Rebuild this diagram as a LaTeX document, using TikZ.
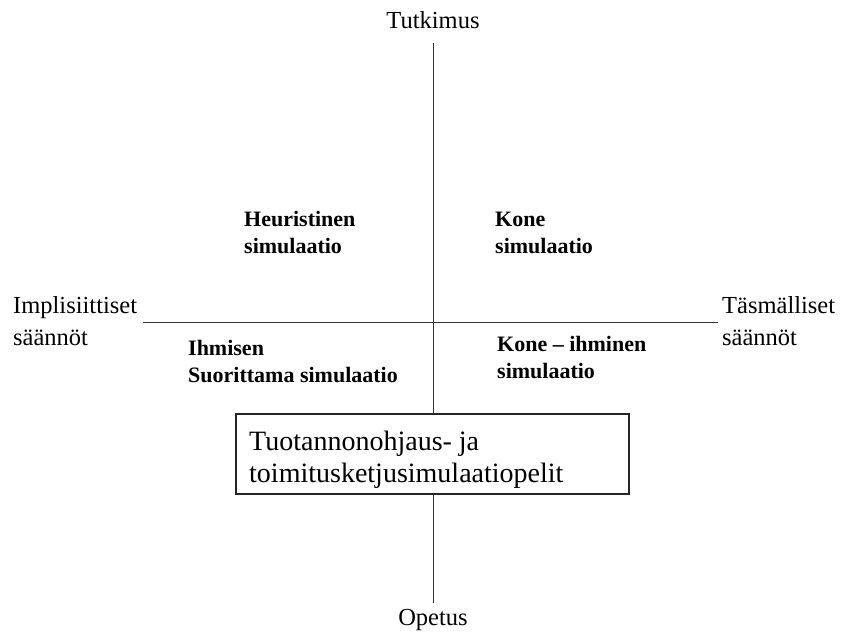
\documentclass[tikz,border=0pt]{standalone}
\usepackage{fontspec}
\setmainfont{Liberation Serif}
\begin{document}
\begin{tikzpicture}[x=1pt,y=-1pt,
  axislabel/.style={inner sep=0pt,font=\fontsize{24.5}{32}\selectfont,align=left},
  quadlabel/.style={inner sep=0pt,font=\fontsize{22}{26.5}\selectfont\bfseries,align=left},
  axisline/.style={line width=1pt,draw=black!80},
  framebox/.style={draw=black!85,line width=1.2pt,fill=white,minimum width=393pt,minimum height=80pt,inner sep=0pt},
  frametext/.style={inner sep=0pt,align=left,font=\fontsize{28}{32}\selectfont}]
\useasboundingbox (0,0) rectangle (846,633);

% axis end labels (multi-line nodes are anchored on their last baseline)
\node[axislabel,anchor=base] (res) at (433,28) {Tutkimus};
\node[axislabel,anchor=base] (edu) at (433,625) {Opetus};
\node[axislabel,anchor=base west] (impl) at (13,345) {Implisiittiset\\säännöt};
\node[axislabel,anchor=base west] (expl) at (722,345) {Täsmälliset\\säännöt};

% axis end points
\coordinate (vtop) at (433,43);
\coordinate (vbot) at (433,603);
\coordinate (hleft) at (143,322);
\coordinate (hright) at (718,322);

\draw[axisline] (vtop) -- (vbot);
\draw[axisline] (hleft) -- (hright);

% quadrant labels
\node[quadlabel,anchor=base west] (heur) at (244,253) {Heuristinen\\simulaatio};
\node[quadlabel,anchor=base west] (mach) at (495,253) {Kone\\simulaatio};
\node[quadlabel,anchor=base west] (human) at (188,382) {Ihmisen\\Suorittama simulaatio};
\node[quadlabel,anchor=base west] (mixed) at (497,378) {Kone – ihminen\\simulaatio};

% framed games box over the vertical axis
\node[framebox] (games) at (432.5,454) {};
\node[frametext,anchor=base west] (gamestext) at (249,482) {Tuotannonohjaus- ja\\toimitusketjusimulaatiopelit};
\end{tikzpicture}
\end{document}
